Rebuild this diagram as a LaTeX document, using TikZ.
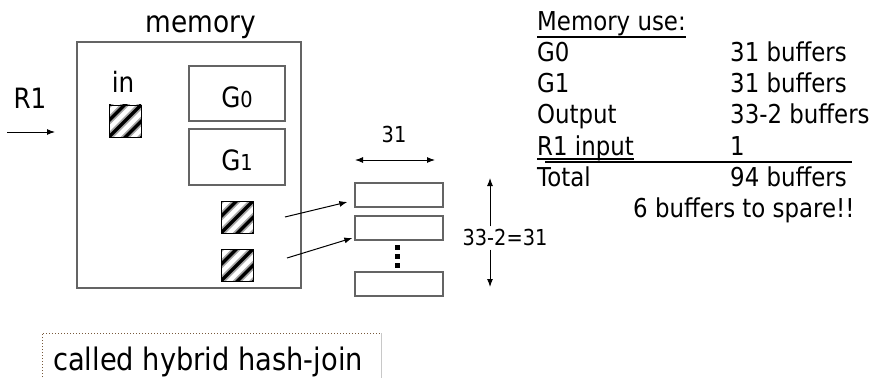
\documentclass[tikz,border=0pt]{standalone}
\usepackage{fontspec}
\setmainfont{DejaVu Sans}[FakeStretch=0.88]
\usetikzlibrary{arrows.meta,calc}
\definecolor{boxgray}{RGB}{100,100,100}
\definecolor{dotbrown}{RGB}{120,90,60}
\definecolor{edgegray}{RGB}{200,200,200}
\newcommand{\fs}[1]{\fontsize{#1}{#1}\selectfont}
\tikzset{
  box/.style={draw=boxgray, line width=1.3pt, inner sep=0pt},
  txt/.style={inner sep=0pt, text=black},
  arr/.style={-{Latex[length=8pt,width=6pt]}, line width=1pt},
  darr/.style={{Latex[length=8pt,width=6pt]}-{Latex[length=8pt,width=6pt]}, line width=1pt},
  hatchsq/.style={draw=black, line width=0.9pt, minimum size=32pt, inner sep=0pt,
    path picture={
      \foreach \k in {-33,-16.5,0,16.5,33}{
        \draw[line width=7pt, black!35]
          ($(path picture bounding box.center)+(-22,22+\k)$) --
          ($(path picture bounding box.center)+(22,-22+\k)$);
        \draw[line width=3.5pt, black]
          ($(path picture bounding box.center)+(-22,22+\k)$) --
          ($(path picture bounding box.center)+(22,-22+\k)$);
      }
    }},
  buf/.style={box, minimum width=88pt, minimum height=24pt},
}
\begin{document}
\begin{tikzpicture}[x=1pt, y=-1pt]
\useasboundingbox (0,0) rectangle (874,377);

% memory area with the two partition buffers
\node[txt, anchor=base] (memlbl) at (201,33) {\fs{30}memory};
\node[box, minimum width=224pt, minimum height=246pt] (mem) at (189,165) {};
\node[box, minimum width=96pt, minimum height=55pt] (g0) at (237,93.5) {};
\node[box, minimum width=96pt, minimum height=56pt] (g1) at (237,157) {};
\node[txt, anchor=base] (g0t) at (237,107) {\fs{28}G\fs{22}0};
\node[txt, anchor=base] (g1t) at (237,170) {\fs{28}G\fs{22}1};

% input buffer
\node[txt, anchor=base] (inlbl) at (123,93) {\fs{28}in};
\node[hatchsq] (insq) at (125,121) {};

% R1 coming in
\node[txt, anchor=base] (r1) at (30,108) {\fs{28}R1};
\coordinate (r1s) at (7,132);
\coordinate (r1e) at (55,132);
\draw[arr] (r1s) -- (r1e);

% output buffers
\node[hatchsq] (o1) at (237,217) {};
\node[hatchsq] (o2) at (237,265) {};

% output buckets on disk
\node[buf] (b1) at (399,195) {};
\node[buf] (b2) at (399,228) {};
\node[buf] (b3) at (399,284) {};
\foreach \yy in {247.5,256,265}
  \fill (395,\yy-2.5) rectangle (400,\yy+2.5);

\coordinate (o1s) at (285,217);
\coordinate (o2s) at (287,258);
\draw[arr] (o1s) -- ([xshift=-7pt,yshift=-7pt]b1.west);
\draw[arr] (o2s) -- ([xshift=-2pt,yshift=-10pt]b2.west);

% dimensions
\node[txt, anchor=base] (w31) at (394,142) {\fs{22}31};
\coordinate (wl) at (355,160);
\coordinate (wr) at (435,160);
\draw[darr] (wl) -- (wr);
\node[txt, anchor=base] (h31) at (505,245) {\fs{22}33-2=31};
\coordinate (ht) at (490,178);
\coordinate (hb) at (490,287);
\draw[arr] (h31.north -| ht) ++(0,-2) -- (ht);
\draw[arr] (h31.south -| hb) ++(0,4) -- (hb);

% memory budget
\begin{scope}[every node/.style={txt, anchor=base west, font=\fs{26}}]
  \node (mu) at (537,31) {Memory use:};
  \node (l1) at (537,62) {G0};      \node (v1) at (730,62) {31 buffers};
  \node (l2) at (537,93) {G1};      \node (v2) at (730,93) {31 buffers};
  \node (l3) at (537,124) {Output}; \node (v3) at (730,124) {33-2 buffers};
  \node (l4) at (537,155) {R1 input}; \node (v4) at (730,155) {1};
  \node (l5) at (537,186) {Total};  \node (v5) at (730,186) {94 buffers};
  \node (sp) at (633,217) {6 buffers to spare!!};
\end{scope}
\draw[line width=1.3pt] ([yshift=-6pt]mu.base west) -- ([yshift=-6pt]mu.base east);
\draw[line width=1.3pt] ([yshift=-4pt]l4.base west) -- ([yshift=-4pt]l4.base east);
\coordinate (rl) at (545,162);
\coordinate (rr) at (852,162);
\draw[line width=1.3pt] (rl) -- (rr);

% caption
\node[txt, anchor=base west] (cap) at (53,370) {\fs{31}called hybrid hash-join};
\draw[dotted, dotbrown, line width=1pt] (42,380) -- (42,333) -- (381,333);
\draw[edgegray, line width=1pt] (381,333) -- (381,380);
\end{tikzpicture}
\end{document}
